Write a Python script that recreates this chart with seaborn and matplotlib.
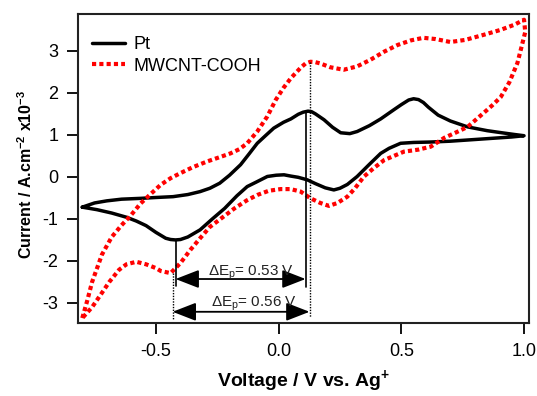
import numpy as np
import pandas as pd
import matplotlib
matplotlib.use("Agg")
import matplotlib.pyplot as plt
import seaborn as sns

# ---------------- data ----------------
pt_fwd_v = [-0.80, -0.75, -0.70, -0.64, -0.56, -0.50, -0.43, -0.37, -0.32, -0.28, -0.24, -0.20,
            -0.155, -0.12, -0.087, -0.05, -0.02, 0.02, 0.05, 0.08, 0.10, 0.12, 0.135, 0.15,
            0.185, 0.22, 0.253, 0.29, 0.32, 0.37, 0.416, 0.47, 0.50, 0.53, 0.55, 0.57, 0.59,
            0.61, 0.65, 0.70, 0.77, 0.85, 0.91, 0.96, 1.00]
pt_fwd_i = [-0.72, -0.62, -0.57, -0.53, -0.51, -0.49, -0.47, -0.42, -0.35, -0.27, -0.15, 0.04,
            0.29, 0.55, 0.80, 1.00, 1.16, 1.30, 1.38, 1.49, 1.54, 1.565, 1.55, 1.50,
            1.36, 1.18, 1.05, 1.03, 1.08, 1.22, 1.38, 1.60, 1.72, 1.83, 1.86, 1.84, 1.77,
            1.66, 1.47, 1.33, 1.19, 1.10, 1.05, 1.01, 0.98]
pt_rev_v = [0.95, 0.90, 0.80, 0.70, 0.62, 0.55, 0.497, 0.45, 0.416, 0.37, 0.32, 0.28, 0.25,
            0.225, 0.19, 0.15, 0.117, 0.08, 0.049, 0.022, -0.01, -0.046, -0.09, -0.128, -0.17,
            -0.22, -0.27, -0.32, -0.37, -0.40, -0.42, -0.44, -0.46, -0.50, -0.54, -0.58, -0.62,
            -0.68, -0.74, -0.80]
pt_rev_i = [0.95, 0.93, 0.89, 0.85, 0.83, 0.82, 0.80, 0.68, 0.56, 0.30, 0.01, -0.18, -0.27,
            -0.31, -0.26, -0.16, -0.07, -0.01, 0.02, 0.05, 0.04, 0.01, -0.12, -0.23, -0.45,
            -0.75, -1.00, -1.26, -1.43, -1.49, -1.50, -1.49, -1.46, -1.32, -1.16, -1.05, -0.96,
            -0.86, -0.78, -0.72]

cnt_fwd_v = [-0.80, -0.78, -0.76, -0.72, -0.68, -0.64, -0.60, -0.562, -0.52, -0.481, -0.44,
             -0.40, -0.35, -0.29, -0.24, -0.196, -0.16, -0.128, -0.087, -0.046, -0.012, 0.02,
             0.05, 0.09, 0.11, 0.13, 0.15, 0.17, 0.21, 0.265, 0.32, 0.375, 0.43, 0.485, 0.54,
             0.59, 0.64, 0.70, 0.76, 0.835, 0.905, 0.96, 1.00]
cnt_fwd_i = [-3.36, -2.95, -2.50, -1.85, -1.43, -1.15, -0.90, -0.63, -0.40, -0.19, -0.03,
             0.09, 0.23, 0.37, 0.47, 0.56, 0.66, 0.80, 1.08, 1.44, 1.83, 2.12,
             2.35, 2.60, 2.70, 2.74, 2.73, 2.70, 2.61, 2.55, 2.63, 2.79, 2.98, 3.14, 3.25,
             3.31, 3.28, 3.21, 3.26, 3.38, 3.50, 3.62, 3.74]
cnt_rev_v = [1.005, 0.99, 0.973, 0.94, 0.905, 0.87, 0.835, 0.77, 0.72, 0.675, 0.62, 0.57,
             0.51, 0.43, 0.39, 0.348, 0.31, 0.28, 0.24, 0.205, 0.17, 0.13, 0.09, 0.049, 0.008,
             -0.04, -0.087, -0.13, -0.18, -0.23, -0.28, -0.32, -0.36, -0.40, -0.44, -0.48,
             -0.50, -0.54, -0.58, -0.62, -0.65, -0.69, -0.72, -0.76, -0.80]
cnt_rev_i = [3.45, 3.10, 2.71, 2.25, 1.90, 1.70, 1.52, 1.19, 1.05, 0.93, 0.72, 0.65,
             0.60, 0.40, 0.22, 0.01, -0.28, -0.47, -0.62, -0.69, -0.62, -0.51, -0.35, -0.29, -0.29,
             -0.33, -0.43, -0.56, -0.75, -0.97, -1.19, -1.46, -1.74, -2.05, -2.29, -2.24,
             -2.17, -2.08, -2.02, -2.08, -2.21, -2.50, -2.76, -3.10, -3.36]

series_names = ["Pt", "MWCNT-COOH"]
x_ticks = [-0.5, 0.0, 0.5, 1.0]
y_ticks = [-3, -2, -1, 0, 1, 2, 3]
dEp_labels = ["0.53 V", "0.56 V"]

# ---------------- style ----------------
sns.set_theme(style="ticks")
plt.rcParams["font.family"] = ["Liberation Sans", "DejaVu Sans"]
plt.rcParams["mathtext.fontset"] = "custom"
plt.rcParams["mathtext.rm"] = "Liberation Sans"
plt.rcParams["mathtext.it"] = "Liberation Sans:italic"
plt.rcParams["mathtext.bf"] = "Liberation Sans:bold"
plt.rcParams["text.color"] = "black"
plt.rcParams["axes.labelcolor"] = "black"

fig = plt.figure(figsize=(5.37, 3.96), dpi=100)
ax = fig.add_axes([0.145, 0.184, 0.84, 0.781])

df_pt = pd.DataFrame({"V": pt_fwd_v + pt_rev_v, "I": pt_fwd_i + pt_rev_i, "s": series_names[0]})
df_cnt = pd.DataFrame({"V": cnt_fwd_v + cnt_rev_v, "I": cnt_fwd_i + cnt_rev_i, "s": series_names[1]})

sns.lineplot(data=df_pt, x="V", y="I", sort=False, estimator=None, color="black",
             lw=2.5, ax=ax, label=series_names[0])
sns.lineplot(data=df_cnt, x="V", y="I", sort=False, estimator=None, color="#ff0000",
             lw=3.0, ax=ax, label=series_names[1], linestyle=(0, (1, 0.75)))
for ln in ax.get_lines():
    ln.set_dash_capstyle("butt")
    ln.set_solid_capstyle("round")
    ln.set_solid_joinstyle("round")

# peak-separation annotations
pk_pt_a, pk_pt_c = (0.11, 1.56), (-0.42, -1.50)
pk_cnt_a, pk_cnt_c = (0.126, 2.74), (-0.432, -2.29)
ax.plot([pk_pt_a[0]] * 2, [pk_pt_a[1], -2.62], color="black", lw=1.2)
ax.plot([pk_pt_c[0]] * 2, [pk_pt_c[1], -2.60], color="black", lw=1.2)
ax.plot([pk_cnt_a[0]] * 2, [pk_cnt_a[1], -3.33], color="black", lw=1.0, linestyle=(0, (1, 1)))
ax.plot([pk_cnt_c[0]] * 2, [pk_cnt_c[1], -3.38], color="black", lw=1.0, linestyle=(0, (1, 1)))

arrow_kw = dict(arrowstyle="<|-|>,head_length=0.9,head_width=0.35", color="black", lw=1.3,
                shrinkA=0, shrinkB=0, mutation_scale=16)
ax.annotate("", xy=(pk_pt_a[0], -2.43), xytext=(pk_pt_c[0], -2.43), arrowprops=arrow_kw)
ax.annotate("", xy=(pk_cnt_a[0], -3.21), xytext=(pk_cnt_c[0], -3.21), arrowprops=arrow_kw)
ax.text(-0.114, -2.36, r"$\mathrm{\Delta E_p}$= " + dEp_labels[0], ha="center", va="baseline",
        fontsize=11, color="#222222")
ax.text(-0.10, -3.09, r"$\mathrm{\Delta E_p}$= " + dEp_labels[1], ha="center", va="baseline",
        fontsize=11, color="#222222")

ax.set_xlim(-0.818, 1.02)
ax.set_ylim(-3.48, 3.88)
ax.set_xticks(x_ticks)
ax.set_xticklabels([f"{v:.1f}" for v in x_ticks])
ax.set_yticks(y_ticks)
ax.set_yticklabels([str(v) for v in y_ticks])
ax.tick_params(direction="out", length=8, width=1.3, labelsize=13, colors="black", pad=6,
               top=False, right=False)
for sp in ax.spines.values():
    sp.set_visible(True)
    sp.set_linewidth(1.5)
    sp.set_color("#222222")

ax.set_xlabel(r"Voltage / V vs. Ag$^{\mathbf{+}}$", fontsize=14, fontweight="bold")
ax.xaxis.set_label_coords(0.5, -0.145)
ax.set_ylabel(r"Current / A.cm$^{\mathbf{-2}}$ x10$^{\mathbf{-3}}$", fontsize=11.5,
              fontweight="bold")
ax.yaxis.set_label_coords(-0.094, 0.482)

leg = ax.legend(loc="upper left", bbox_to_anchor=(0.0, 0.975), frameon=False, fontsize=13,
                handlelength=1.8, handletextpad=0.5, labelspacing=0.25, borderaxespad=0.4)

fig.savefig("out.png", dpi=100)
